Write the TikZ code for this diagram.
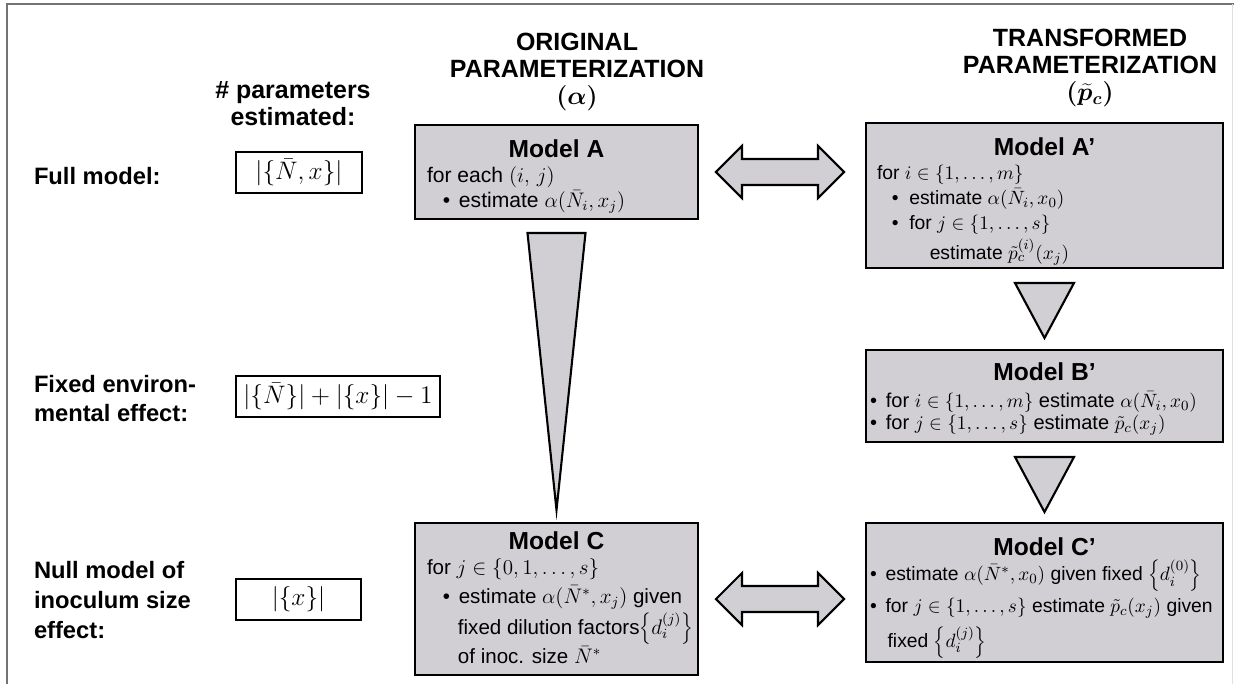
\documentclass[tikz,border=0pt]{standalone}
\usepackage{fontspec}
\setmainfont{Liberation Sans}
\usetikzlibrary{positioning, calc}
\definecolor{boxgray}{RGB}{209,207,211}

\begin{document}
\begin{tikzpicture}[
  x=0.02cm, y=-0.02cm,
  every node/.style={inner sep=0pt, outer sep=0pt},
  head/.style={font=\fontsize{14.2}{15.4}\selectfont\bfseries\boldmath, align=center, anchor=north},
  rowlabel/.style={font=\fontsize{13.5}{16.8}\selectfont\bfseries, align=left, anchor=west},
  count/.style={draw=black, line width=0.6pt, fill=white, minimum height=0.82cm, font=\fontsize{14}{16}\selectfont},
  model/.style={draw=black, line width=1.2pt, fill=boxgray},
  mtitle/.style={font=\fontsize{14}{16}\selectfont\bfseries},
  mbody/.style={font=\fontsize{12}{14.2}\selectfont, align=left},
  sbody/.style={font=\fontsize{11}{14.2}\selectfont, align=left},
  flow/.style={draw=black, line width=1.2pt, fill=boxgray, line join=miter}
]

% frame
\useasboundingbox (0,0) rectangle (1234,684);
\draw[black!55, line width=0.8pt] (7,684) -- (7,4) -- (1234,4);
\draw[black!12, line width=0.5pt] (1232,4) -- (1232,684);

% column headers
\node[head] (hcount) at (293,81) {\# parameters\\estimated:};
\node[head] (horig) at (577,33) {ORIGINAL\\PARAMETERIZATION\\$(\alpha)$};
\node[head] (htrans) at (1090,29) {TRANSFORMED\\PARAMETERIZATION\\$(\widetilde{p}_c)$};

% row labels and parameter counts
\node[rowlabel] (lfull) at (34,176.5) {Full model:};
\node[rowlabel] (lfixed) at (34,398.5) {Fixed environ-\\mental effect:};
\node[rowlabel] (lnull) at (34,600) {Null model of\\inoculum size\\effect:};

\node[count, minimum width=2.52cm] (cfull) at (299,172.5) {$|\{\bar{N},x\}|$};
\node[count, minimum width=4.08cm] (cfixed) at (338,396.5) {$|\{\bar{N}\}|+|\{x\}|-1$};
\node[count, minimum width=2.50cm] (cnull) at (298.5,599.5) {$|\{x\}|$};

% model boxes
\node[model, minimum width=5.66cm, minimum height=1.88cm] (mA) at (556.5,172) {};
\node[model, minimum width=7.14cm, minimum height=2.90cm] (mAp) at (1044.5,195.5) {};
\node[model, minimum width=7.14cm, minimum height=1.84cm] (mBp) at (1044.5,396) {};
\node[model, minimum width=5.66cm, minimum height=3.04cm] (mC) at (556.5,599) {};
\node[model, minimum width=7.14cm, minimum height=2.78cm] (mCp) at (1044.5,592.5) {};

% titles
\node[mtitle, below=0.30cm of mA.north] (tA) {Model A};
\node[mtitle, below=0.30cm of mAp.north] (tAp) {Model A’};
\node[mtitle, below=0.26cm of mBp.north] (tBp) {Model B’};
\node[mtitle, below=0.18cm of mC.north] (tC) {Model C};
\node[mtitle, below=0.30cm of mCp.north] (tCp) {Model C’};

% box contents
\node[mbody, below right=0.84cm and 0.24cm of mA.north west] (bA) {for each $(i,\,j)$\\
  \hspace*{9pt}\textbullet\hspace{5pt}estimate $\alpha\bigl(\bar{N}_i,x_j\bigr)$};
\node[sbody, below right=0.84cm and 0.22cm of mAp.north west] (bAp) {for $i\in\{1,\dots,m\}$\\
  \hspace*{8.5pt}\textbullet\hspace{6pt}estimate $\alpha(\bar{N}_i,x_0)$\\
  \hspace*{8.5pt}\textbullet\hspace{6pt}for $j\in\{1,\dots,s\}$\\[1.5pt]
  \hspace*{30pt}estimate $\tilde{p}_c^{(i)}(x_j)$};
\node[sbody, font=\fontsize{11.4}{12.8}\selectfont, below right=0.83cm and 0.08cm of mBp.north west] (bBp) {\textbullet\hspace{5pt}for $i\in\{1,\dots,m\}$ estimate $\alpha(\bar{N}_i,x_0)$\\
  \textbullet\hspace{5pt}for $j\in\{1,\dots,s\}$ estimate $\tilde{p}_c(x_j)$};
\node[mbody, font=\fontsize{11.7}{14.2}\selectfont, below right=0.72cm and 0.24cm of mC.north west] (bC) {for $j\in\{0,1,\dots,s\}$\\[2pt]
  \hspace*{9pt}\textbullet\hspace{5pt}estimate $\alpha\bigl(\bar{N}^*,x_j\bigr)$ given\\[1pt]
  \hspace*{17.6pt}fixed dilution factors$\left\{d_i^{(j)}\right\}$\\
  \hspace*{17.6pt}of inoc. size $\bar{N}^*$};
\node[sbody, below right=0.74cm and 0.08cm of mCp.north west] (bCp) {\textbullet\hspace{5pt}estimate $\alpha(\bar{N}^*,x_0)$ given fixed $\left\{d_i^{(0)}\right\}$\\[2.5pt]
  \textbullet\hspace{5pt}for $j\in\{1,\dots,s\}$ estimate $\tilde{p}_c(x_j)$ given\\[4pt]
  \hspace*{10pt}fixed $\left\{d_i^{(j)}\right\}$};

% double arrows between parameterizations
\coordinate (uL) at ($(mA.east)+(18,0)$);
\coordinate (uR) at ($(mA.east -| mAp.west)+(-22,0)$);
\draw[flow] (uL) -- ++(26,-26) -- ++(0,13) -- ($(uR)+(-26,-13)$) -- ++(0,-13) -- (uR)
  -- ++(-26,26) -- ++(0,-13) -- ($(uL)+(26,13)$) -- ++(0,13) -- cycle;
\coordinate (lL) at ($(mC.east)+(18,0)$);
\coordinate (lR) at ($(mC.east -| mCp.west)+(-22,0)$);
\draw[flow] (lL) -- ++(26,-26) -- ++(0,13) -- ($(lR)+(-26,-13)$) -- ++(0,-13) -- (lR)
  -- ++(-26,26) -- ++(0,-13) -- ($(lL)+(26,13)$) -- ++(0,13) -- cycle;

% reductions
\draw[flow] ($(mA.south)+(-29,14)$) -- ($(mA.south)+(29,14)$) -- ($(mC.north)+(0,-13)$) -- cycle;
\draw[flow] ($(mAp.south)+(-29.5,15)$) -- ($(mAp.south)+(29.5,15)$) -- ($(mBp.north)+(0,-12)$) -- cycle;
\draw[flow] ($(mBp.south)+(-29.5,15)$) -- ($(mBp.south)+(29.5,15)$) -- ($(mCp.north)+(0,-11)$) -- cycle;

\end{tikzpicture}
\end{document}
